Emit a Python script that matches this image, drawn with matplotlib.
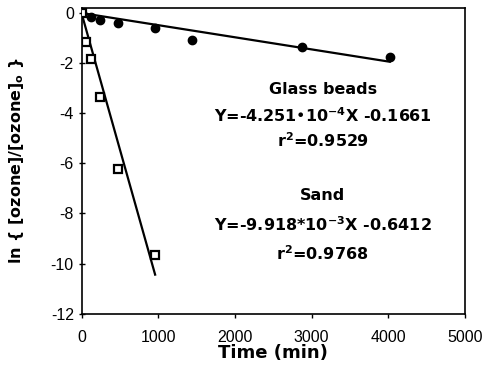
import numpy as np
import matplotlib
matplotlib.use('Agg')
import matplotlib.pyplot as plt

# ozone decay data
glass_time = [0, 120, 240, 480, 960, 1440, 2880, 4020]
glass_ln = [0, -0.15, -0.28, -0.41, -0.61, -1.08, -1.35, -1.77]

sand_time = [0, 60, 120, 240, 480, 960]
sand_ln = [0, -1.15, -1.85, -3.35, -6.24, -9.65]

x_ticks = [0, 1000, 2000, 3000, 4000, 5000]
y_ticks = [-12, -10, -8, -6, -4, -2, 0]

glass_label = ['Glass beads',
               'Y=-4.251\u202210$^{\\mathbf{-4}}$X -0.1661',
               r'r$^{\mathbf{2}}$=0.9529']
sand_label = ['Sand',
              r'Y=-9.918*10$^{\mathbf{-3}}$X -0.6412',
              r'r$^{\mathbf{2}}$=0.9768']

plt.rcParams['mathtext.fontset'] = 'dejavusans'
BOLD = 'DejaVu Sans'


def origin_fit(x, y):
    x = np.asarray(x, dtype=float)
    y = np.asarray(y, dtype=float)
    k = np.sum(x * y) / np.sum(x * x)
    xs = np.array([0, x.max()])
    return xs, k * xs


fig = plt.figure(figsize=(4.86, 3.82), dpi=100)
ax = fig.add_axes([0.1677, 0.179, 0.789, 0.8])

gx, gy = origin_fit(glass_time, glass_ln)
sx, sy = origin_fit(sand_time, sand_ln)
ax.plot(gx, gy, color='black', lw=1.6)
ax.plot(sx, sy, color='black', lw=1.6)

ax.plot(glass_time, glass_ln, 'o', color='black', ms=6, zorder=3)
ax.plot(sand_time, sand_ln, 's', mfc='white', mec='black', mew=1.6,
        ms=5.5, zorder=3)

ax.set_xlim(0, 5000)
ax.set_ylim(-12, 0.2)
ax.set_xticks(x_ticks)
ax.set_yticks(y_ticks)
ax.set_xticklabels([str(t) for t in x_ticks], family='Liberation Sans',
                   fontsize=11.5)
ax.set_yticklabels([str(t) for t in y_ticks], family='Liberation Sans',
                   fontsize=11.5)
ax.tick_params(axis='x', direction='out', length=3, width=1, pad=9)
ax.tick_params(axis='y', direction='inout', length=5, width=1, pad=3)

for s in ax.spines.values():
    s.set_linewidth(1.2)

ax.set_xlabel('Time (min)', family=BOLD, fontweight='bold',
              fontsize=13, labelpad=-1)
ax.set_ylabel(r'ln { [ozone]/[ozone]$_{\mathbf{o}}$ }', family=BOLD,
              fontweight='bold', fontsize=11.5, labelpad=18)

for i, txt in enumerate(glass_label):
    ax.text(3145, -3.05 - 1.03 * i, txt, ha='center', va='center',
            family=BOLD, fontweight='bold', fontsize=11.5)
for i, txt in enumerate(sand_label):
    ax.text(3145, -7.3 - 1.15 * i, txt, ha='center', va='center',
            family=BOLD, fontweight='bold', fontsize=11.5)

fig.savefig('out.png', dpi=100)
